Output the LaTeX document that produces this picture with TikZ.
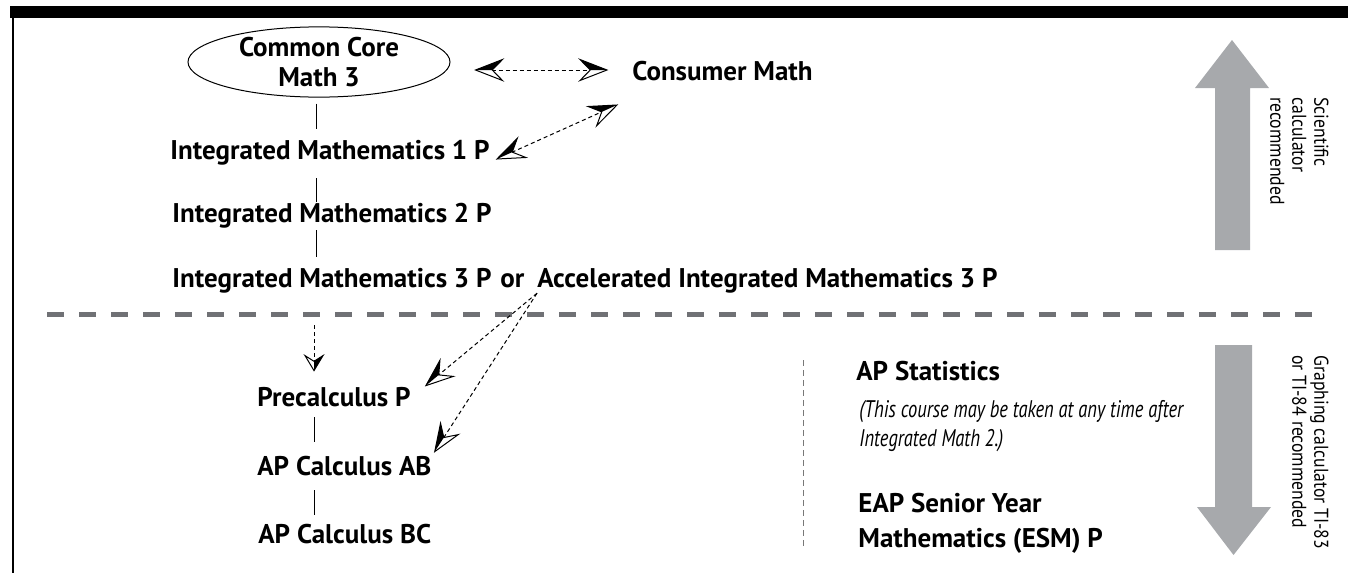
\documentclass[tikz,border=0pt]{standalone}
\usepackage{fontspec}
\setmainfont{PT Sans}
\newfontfamily\condfont[FakeStretch=0.885]{PT Sans}
\newfontfamily\notefont[FakeStretch=0.77]{PT Sans}
\usepackage{tikz}
\usetikzlibrary{arrows.meta,shapes.geometric,positioning}

\definecolor{arrowgray}{RGB}{167,169,172}
\definecolor{divgray}{RGB}{112,113,117}
\definecolor{sepgray}{RGB}{120,120,120}

\pgfdeclarearrow{
  name = HalfDart,
  defaults = {length = 13.5pt, width = 10.5pt},
  setup code = {
    \pgfarrowssettipend{0pt}
    \pgfarrowssetlineend{-0.6\pgfarrowlength}
    \pgfarrowssetvisualbackend{-\pgfarrowlength}
    \pgfarrowssetbackend{-\pgfarrowlength}
    \pgfarrowshullpoint{0pt}{0pt}
    \pgfarrowsupperhullpoint{-\pgfarrowlength}{.5\pgfarrowwidth}
    \pgfarrowssavethe\pgfarrowlength
    \pgfarrowssavethe\pgfarrowwidth
  },
  drawing code = {
    \pgfsetdash{}{0pt}
    \pgfsetlinewidth{0.5pt}
    \pgfsetmiterjoin
    \pgfpathmoveto{\pgfpointorigin}
    \pgfpathlineto{\pgfpoint{-\pgfarrowlength}{.5\pgfarrowwidth}}
    \pgfpathlineto{\pgfpoint{-.62\pgfarrowlength}{0pt}}
    \pgfpathlineto{\pgfpoint{-\pgfarrowlength}{-.5\pgfarrowwidth}}
    \pgfpathclose
    \pgfsetfillcolor{white}
    \pgfusepathqfillstroke
    \pgfpathmoveto{\pgfpointorigin}
    \pgfpathlineto{\pgfpoint{-\pgfarrowlength}{.5\pgfarrowwidth}}
    \pgfpathlineto{\pgfpoint{-.62\pgfarrowlength}{0pt}}
    \pgfpathclose
    \pgfsetfillcolor{black}
    \pgfusepathqfill
  },
  parameters = {\the\pgfarrowlength,\the\pgfarrowwidth},
}

\begin{document}
\begin{tikzpicture}[
  x=0.5pt, y=-0.5pt,
  every node/.style={font=\bfseries\fontsize{13.5}{15}\selectfont, inner sep=0pt},
  course/.style={text height=9.6pt, text depth=2.9pt, anchor=base west},
  corebox/.style={draw, ellipse, line width=0.5pt, minimum width=131pt, minimum height=35pt, align=center},
  sidenote/.style={font=\condfont\fontsize{10}{11}\selectfont, rotate=-90, anchor=north west, align=left},
  notetext/.style={font=\notefont\itshape\fontsize{12}{14.5}\selectfont, anchor=north west, align=left},
  twoline/.style={font=\bfseries\fontsize{13.5}{17.5}\selectfont, anchor=north west, align=left},
  link/.style={line width=0.5pt},
  opt/.style={line width=0.5pt, dash pattern=on 2pt off 1.5pt},
  divider/.style={line width=2.5pt, divgray, dash pattern=on 8.5pt off 7.5pt},
  sepline/.style={line width=0.5pt, sepgray, dash pattern=on 3pt off 2pt},
  bigarrow/.style={fill=arrowgray}
]
\useasboundingbox (0,0) rectangle (1348,573);

\fill (10,6) rectangle (1348,18);
\draw[line width=1.25pt] (13,18) -- (13,573);

\node[corebox] (core) at (319,62) {Common Core\\Math 3};
\node[course] (consumer) at (632,80) {Consumer Math};
\node[course] (im1) at (170,159) {Integrated Mathematics 1 P};
\node[course] (im2) at (172,222) {Integrated Mathematics 2 P};
\node[course] (im3) at (172,287) {Integrated Mathematics 3 P};
\node[course] (or) at (500,287) {or};
\node[course] (aim3) at (537,287) {Accelerated Integrated Mathematics 3 P};
\node[course] (precalc) at (257,406) {Precalculus P};
\node[course] (apab) at (257,475) {AP Calculus AB};
\node[course] (apbc) at (258,543) {AP Calculus BC};
\node[course] (apstat) at (856,380) {AP Statistics};
\node[notetext] (statnote) at (859,400) {(This course may be taken at any time after\\Integrated Math 2.)};
\node[twoline] (esm) at (858,493) {EAP Senior Year\\Mathematics (ESM) P};

\coordinate (topaxis) at (316,0);
\coordinate (lowaxis) at (314,0);
\coordinate (divL) at (47,314);
\coordinate (divR) at (1318,314);

\draw[divider] (divL) -- (divR);
\draw[sepline] (803.5,360) -- (803.5,548);

\draw[link, shorten <=3pt, shorten >=5.4pt] (topaxis |- core.south) -- (topaxis |- im1.north);
\draw[link, shorten <=6.6pt] (topaxis |- im1.south) -- (topaxis |- im2.north);
\draw[link, shorten <=1.1pt, shorten >=5.4pt] (topaxis |- im2.south) -- (topaxis |- im3.north);
\draw[link, shorten <=2.6pt, shorten >=6.9pt] (lowaxis |- precalc.south) -- (lowaxis |- apab.north);
\draw[link, shorten <=4.6pt, shorten >=4.4pt] (lowaxis |- apab.south) -- (lowaxis |- apbc.north);

\draw[opt, {HalfDart[swap]}-{HalfDart}, shorten <=12.5pt, shorten >=12.5pt]
  ([yshift=-4pt]core.east) -- ([yshift=-4pt]core.east -| consumer.west);
\draw[opt, {HalfDart[swap]}-{HalfDart}]
  ([xshift=3.5pt]im1.base east) -- ([shift={(-7.5pt,-15.85pt)}]consumer.west);
\draw[opt, -{HalfDart[length=7.5pt, width=9pt]}, shorten <=5.5pt, shorten >=7.9pt]
  (lowaxis |- divL) -- (lowaxis |- precalc.north);
\draw[opt, -{HalfDart[swap]}] (aim3.south west) -- ([shift={(7.5pt,0.4pt)}]precalc.north east);
\draw[opt, -{HalfDart[swap]}] (aim3.south west) -- ([shift={(1.5pt,1.9pt)}]apab.north east);

\fill[bigarrow] (1232,40) -- (1269,88) -- (1250,88) -- (1250,250) -- (1215,250) -- (1215,88) -- (1195,88) -- cycle;
\fill[bigarrow] (1233.5,555) -- (1271,507) -- (1252,507) -- (1252,345) -- (1215,345) -- (1215,507) -- (1197,507) -- cycle;

\node[sidenote] (scical) at (1329,97) {Scientific\\calculator\\recommended};
\node[sidenote] (graphcal) at (1329,355) {Graphing calculator TI-83\\or TI-84 recommended};

\end{tikzpicture}
\end{document}
